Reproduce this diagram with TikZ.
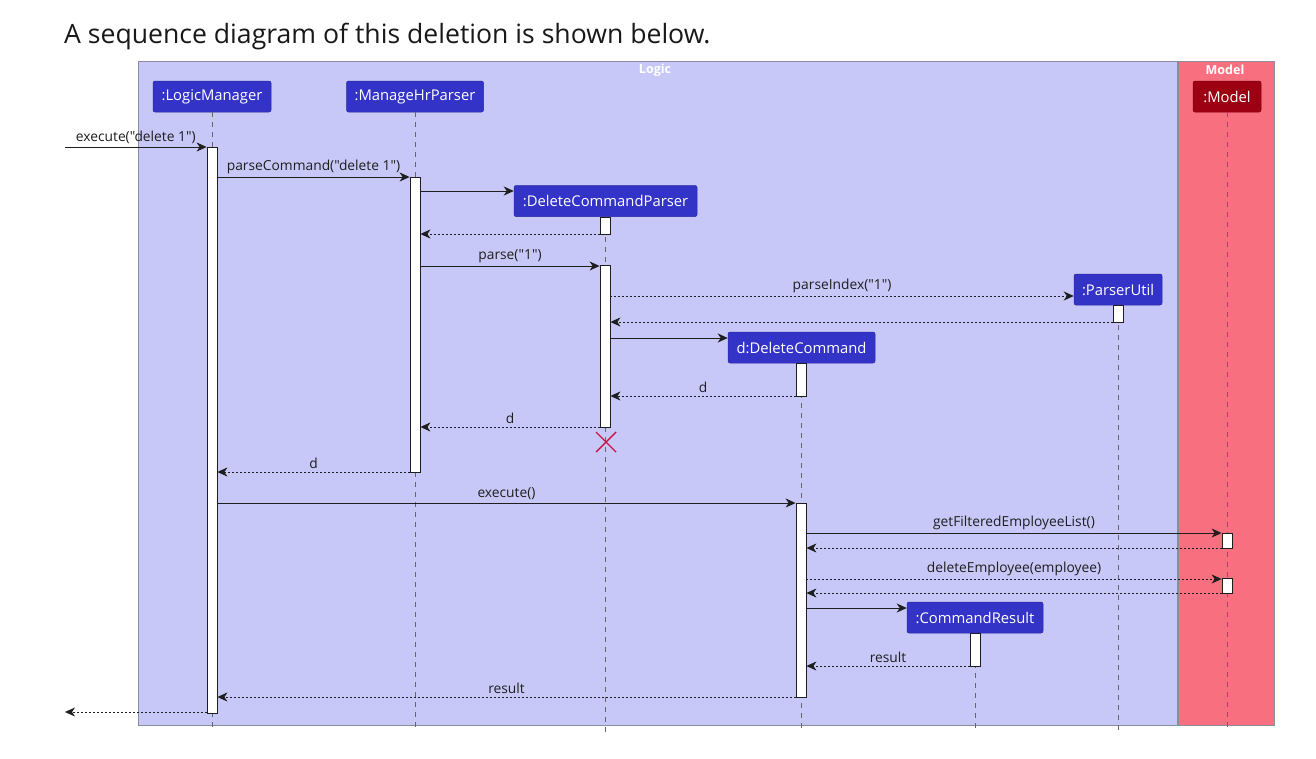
\documentclass[tikz,border=0pt]{standalone}
\usepackage{fontspec}
\setmainfont{Open Sans}[Ligatures=TeXOff]
\usetikzlibrary{arrows.meta}
\definecolor{logicbg}{RGB}{200,200,248}
\definecolor{modelbg}{RGB}{248,112,128}
\definecolor{groupline}{RGB}{140,140,160}
\definecolor{hdrblue}{RGB}{51,51,200}
\definecolor{hdrline}{RGB}{40,40,160}
\definecolor{hdrred}{RGB}{156,0,18}
\definecolor{xred}{RGB}{200,20,70}
\definecolor{ink}{RGB}{30,30,30}
\tikzset{
  grp/.style={draw=groupline, line width=0.8pt, anchor=north west, inner sep=0pt},
  grplbl/.style={text=white, font=\bfseries\fontsize{12.5}{14}\selectfont},
  hdr/.style={fill=hdrblue, draw=hdrline, line width=0.5pt, rounded corners=2pt, text=white,
    font=\fontsize{14.8}{17}\selectfont, minimum height=31pt, inner xsep=0pt, inner ysep=0pt},
  act/.style={draw=ink, fill=white, line width=0.8pt, minimum width=10pt, inner sep=0pt},
  life/.style={draw=gray!80!black, line width=0.6pt, dash pattern=on 5pt off 5pt},
  tip/.style={-{Stealth[length=10pt,width=9pt,inset=3pt]}},
  msg/.style={draw=ink, line width=0.9pt, tip},
  ret/.style={draw=ink, line width=0.9pt, tip, dash pattern=on 2pt off 2pt},
  lbl/.style={text=ink, font=\fontsize{13.8}{16}\selectfont, inner sep=1pt, above=1.5pt}
}
\begin{document}
\begin{tikzpicture}[x=1pt,y=-1pt]
\useasboundingbox (0,0) rectangle (1316,758);
\fill[white] (0,0) rectangle (1316,758);
% title
\node[anchor=west, text=black!90, font=\fontsize{26.6}{30}\selectfont, inner sep=0pt] (title) at (64,37) {A sequence diagram of this deletion is shown below.};
% groups
\node[grp, fill=logicbg, minimum width=1039pt, minimum height=664pt] (logicG) at (138,61) {};
\node[grp, fill=modelbg, minimum width=96pt, minimum height=664pt] (modelG) at (1178,61) {};
\node[grplbl] (logicL) at (655,70) {Logic};
\node[grplbl] (modelL) at (1225,70) {Model};
% headers
\node[hdr, minimum width=118pt] (lmH) at (212,96.5) {:LogicManager};
\node[hdr, minimum width=137pt] (mhH) at (415,96.5) {:ManageHrParser};
\node[hdr, minimum width=183pt] (dpH) at (605.5,201) {:DeleteCommandParser};
\node[hdr, minimum width=88pt] (puH) at (1118,289.5) {:ParserUtil};
\node[hdr, minimum width=147pt] (dcH) at (801.5,347.5) {d:DeleteCommand};
\node[hdr, minimum width=136pt] (crH) at (975,617.5) {:CommandResult};
\node[hdr, fill=hdrred, draw=hdrred!80!black, minimum width=68pt] (moH) at (1227,96.5) {:Model};
% lifelines
\foreach \h in {lmH,mhH,dpH,puH,dcH,crH,moH}
  \draw[life] (\h.south) -- (\h.south |- 0,732);
% activations
\node[act, minimum height=566pt] (lmA) at (212,430) {};
\node[act, minimum height=295pt] (mhA) at (415,324.5) {};
\node[act, minimum height=17pt] (dpA1) at (605,225.5) {};
\node[act, minimum height=162pt] (dpA2) at (605,346) {};
\node[act, minimum height=17pt] (puA) at (1118,313.5) {};
\node[act, minimum height=33pt] (dcA1) at (801,379.5) {};
\node[act, minimum height=194pt] (dcA2) at (801,600) {};
\node[act, minimum height=33pt] (crA) at (975,649.5) {};
\node[act, minimum height=15pt] (moA1) at (1227,540.5) {};
\node[act, minimum height=15pt] (moA2) at (1227,586) {};
% external ends
\coordinate (extIn) at (65,147);
\coordinate (extOut) at (65,712);
% messages
\draw[msg] (extIn) -- (lmA.west |- extIn) node[lbl, midway] {execute("delete 1")};
\draw[msg] (lmA.east |- 0,177) -- (mhA.west |- 0,177) node[lbl, midway] {parseCommand("delete 1")};
\draw[msg] (mhA.east |- 0,191) -- (dpH.west |- 0,191);
\draw[ret] (dpA1.west |- 0,234) -- (mhA.east |- 0,234);
\draw[msg] (mhA.east |- 0,266) -- (dpA2.west |- 0,266) node[lbl, midway] {parse("1")};
\draw[ret] (dpA2.east |- 0,296) -- (puH.west |- 0,296) node[lbl, midway] {parseIndex("1")};
\draw[ret] (puA.west |- 0,322) -- (dpA2.east |- 0,322);
\draw[msg] (dpA2.east |- 0,338) -- (dcH.west |- 0,338);
\draw[ret] (dcA1.west |- 0,396) -- (dpA2.east |- 0,396) node[lbl, midway] {d};
\draw[ret] (dpA2.west |- 0,427) -- (mhA.east |- 0,427) node[lbl, midway] {d};
\draw[ret] (mhA.west |- 0,472) -- (lmA.east |- 0,472) node[lbl, midway] {d};
\draw[msg] (lmA.east |- 0,503) -- (dcA2.west |- 0,503) node[lbl, midway] {execute()};
\draw[msg] (dcA2.east |- 0,533) -- (moA1.west |- 0,533) node[lbl, midway] {getFilteredEmployeeList()};
\draw[ret] (moA1.west |- 0,548) -- (dcA2.east |- 0,548);
\draw[ret] (dcA2.east |- 0,579) -- (moA2.west |- 0,579) node[lbl, midway] {deleteEmployee(employee)};
\draw[ret] (moA2.west |- 0,593) -- (dcA2.east |- 0,593);
\draw[msg] (dcA2.east |- 0,608) -- (crH.west |- 0,608);
\draw[ret] (crA.west |- 0,666) -- (dcA2.east |- 0,666) node[lbl, midway] {result};
\draw[ret] (dcA2.west |- 0,697) -- (lmA.east |- 0,697) node[lbl, midway] {result};
\draw[ret] (lmA.west |- extOut) -- (extOut);
% destroy marker
\coordinate (xc) at (606,442);
\draw[xred, line width=1.4pt] ([shift={(-10,-10)}]xc) -- ([shift={(10,10)}]xc)
  ([shift={(-10,10)}]xc) -- ([shift={(10,-10)}]xc);
\end{tikzpicture}
\end{document}
